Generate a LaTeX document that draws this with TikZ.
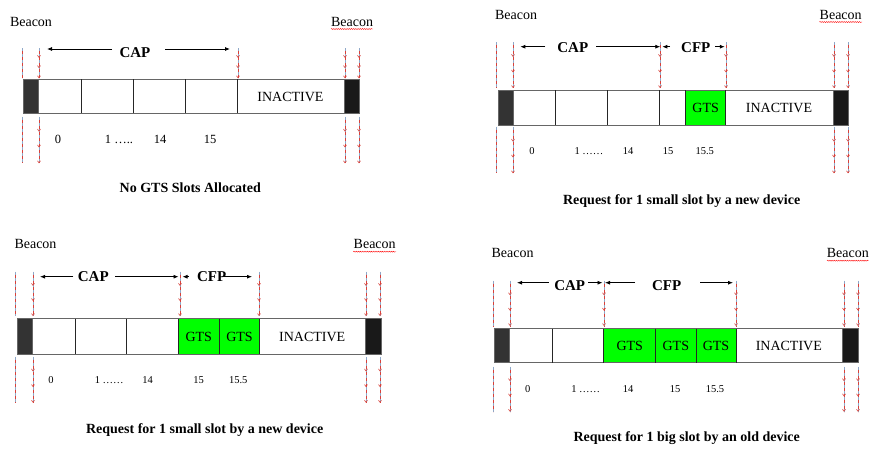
\documentclass[tikz,border=0pt]{standalone}
\usepackage{fontspec}
\setmainfont{Liberation Serif}
\usetikzlibrary{arrows.meta,decorations.markings,decorations.pathmorphing}
\definecolor{gtsgreen}{HTML}{00FF00}
\definecolor{dashblue}{HTML}{8FA8C8}
\definecolor{dashred}{HTML}{D9413A}
\tikzset{
 lbl/.style={inner sep=0pt,anchor=base,font=\fontsize{14}{16}\selectfont},
 bold/.style={inner sep=0pt,anchor=base,font=\fontsize{14}{16}\selectfont\bfseries},
 capt/.style={inner sep=0pt,anchor=base,font=\fontsize{15}{17}\selectfont\bfseries},
 num/.style={inner sep=0pt,anchor=base,font=\fontsize{10.5}{12}\selectfont},
 bignum/.style={inner sep=0pt,anchor=base,font=\fontsize{12.5}{14}\selectfont},
 whitebar/.style={fill=white},
 gts/.style={draw=black,line width=0.8pt,fill=gtsgreen},
 divider/.style={draw=black!85,line width=0.8pt},
 beaconL/.style={draw=black!60,line width=0.8pt,fill=black!80},
 beaconR/.style={draw=black!60,line width=0.8pt,fill=black!90},
 frame/.style={draw=black!60,line width=1pt},
 span/.style={line width=0.8pt,-{Latex[length=5pt,width=4pt]}},
 blu/.style={draw=dashblue,line width=0.8pt,dash pattern=on 3pt off 3pt},
 rdd/.style={draw=dashred,line width=0.6pt,dash pattern=on 3pt off 3pt,dash phase=3pt},
 tipped/.style={postaction={decorate},decoration={markings,
   mark=between positions 0.32 and 1 step 0.34 with {\arrow[dashred]{Straight Barb[length=2pt,width=3pt]}}}},
 squig/.style={draw=red,line width=0.4pt,decorate,decoration={snake,amplitude=0.5pt,segment length=2.2pt}},
}
\newcommand\vdl[4]{%
  \draw[blu] (#1,#2) -- (#1,#3);
  \draw[rdd,#4] (#1,#2) -- (#1,#3);}
\begin{document}
\begin{tikzpicture}[x=1pt,y=-1pt]
\useasboundingbox (0,0) rectangle (874,455);
\fill[white] (0,0) rectangle (874,455);

%% ---------------- Panel 1 ----------------
\fill[whitebar] (23,79) rectangle (359,113);
\draw[frame] (23,79) rectangle (359,113);
\foreach \a in {81.7,133,185,237.5} \draw[divider] (\a,79) -- (\a,113);
\draw[beaconL] (23,79) rectangle (38,113);
\draw[beaconR] (344,79) rectangle (359,113);
\node[lbl] (p1bl) at (31,26) {Beacon};
\node[lbl] (p1br) at (352,26) {Beacon};
\draw[squig] (331,29) -- (373,29);
\node[capt] (p1cap) at (135,57.5) {CAP};
\coordinate (p1a1) at (112,49); \coordinate (p1a2) at (47,49);
\coordinate (p1a3) at (165,49); \coordinate (p1a4) at (230,49);
\draw[span] (p1a1) -- (p1a2);
\draw[span] (p1a3) -- (p1a4);
\node[lbl] (p1in) at (290.5,101) {INACTIVE};
\node[bignum] (p1n0) at (58,143.3) {0};
\node[bignum] (p1n1) at (119,143.3) {1 …..};
\node[bignum] (p1n14) at (160,143.3) {14};
\node[bignum] (p1n15) at (210,143.3) {15};
\node[bold] (p1c) at (190.3,192.7) {No GTS Slots Allocated};
\vdl{22}{48.3}{78.3}{} \vdl{22}{116.7}{163.3}{}
\vdl{39}{48.3}{78.3}{tipped} \vdl{39}{116.7}{163.3}{tipped}
\vdl{238}{48.3}{78.3}{tipped}
\vdl{345}{48.3}{78.3}{tipped} \vdl{345}{116.7}{163.3}{tipped}
\vdl{359}{48.3}{78.3}{tipped} \vdl{359}{116.7}{163.3}{tipped}

%% ---------------- Panel 2 ----------------
\fill[whitebar] (498,90) rectangle (848,125);
\draw[gts] (685,90) rectangle (725,125);
\draw[frame] (498,90) rectangle (848,125);
\foreach \a in {555,607,659,685,725} \draw[divider] (\a,90) -- (\a,125);
\draw[beaconL] (498,90) rectangle (513,125);
\draw[beaconR] (833,90) rectangle (848,125);
\node[lbl] (p2bl) at (516,19) {Beacon};
\node[lbl] (p2br) at (840.7,19) {Beacon};
\draw[squig] (819.3,22) -- (862,22);
\node[capt] (p2cap) at (572.8,52.7) {CAP};
\node[capt] (p2cfp) at (695.8,52.7) {CFP};
\coordinate (p2a1) at (545.3,46.7); \coordinate (p2a2) at (520.3,46.7);
\coordinate (p2a3) at (596.3,46.7); \coordinate (p2a4) at (660.3,46.7);
\coordinate (p2a5) at (670,46.7); \coordinate (p2a6) at (662.3,46.7);
\coordinate (p2a7) at (715,46.7); \coordinate (p2a8) at (724.8,46.7);
\draw[span] (p2a1) -- (p2a2);
\draw[span] (p2a3) -- (p2a4);
\draw[span] (p2a5) -- (p2a6);
\draw[span] (p2a7) -- (p2a8);
\node[lbl] (p2g1) at (705.7,112.7) {GTS};
\node[lbl] (p2in) at (779,112.7) {INACTIVE};
\node[num] (p2n0) at (532,154) {0};
\node[num] (p2n1) at (589,154) {1 ……};
\node[num] (p2n14) at (628,154) {14};
\node[num] (p2n15) at (668,154) {15};
\node[num] (p2n155) at (704.7,154) {15.5};
\node[bold] (p2c) at (681.7,204) {Request for 1 small slot by a new device};
\vdl{496}{42.3}{88}{} \vdl{496}{126.7}{173.3}{}
\vdl{513}{42.3}{88}{tipped} \vdl{513}{126.7}{173.3}{tipped}
\vdl{660}{42.3}{88}{tipped}
\vdl{726}{42.3}{88}{tipped}
\vdl{834}{42.3}{88}{tipped} \vdl{834}{126.7}{173.3}{tipped}
\vdl{848}{42.3}{88}{tipped} \vdl{848}{126.7}{173.3}{tipped}

%% ---------------- Panel 3 ----------------
\fill[whitebar] (17,318.7) rectangle (381,354);
\draw[gts] (178,318.7) rectangle (219,354);
\draw[gts] (219,318.7) rectangle (259,354);
\draw[frame] (17,318.7) rectangle (381,354);
\foreach \a in {75,126,178,219,259} \draw[divider] (\a,318.7) -- (\a,354);
\draw[beaconL] (17,318.7) rectangle (32,354);
\draw[beaconR] (365,318.7) rectangle (381,354);
\node[lbl] (p3bl) at (35.5,248.3) {Beacon};
\node[lbl] (p3br) at (374.7,248.3) {Beacon};
\draw[squig] (353.3,251.7) -- (396,251.7);
\node[capt] (p3cap) at (93.3,281) {CAP};
\node[capt] (p3cfp) at (211.7,281) {CFP};
\coordinate (p3a1) at (73.3,276.7); \coordinate (p3a2) at (40,276.7);
\coordinate (p3a3) at (115,276.7); \coordinate (p3a4) at (178.5,276.7);
\coordinate (p3a5) at (189,276.7); \coordinate (p3a6) at (182.5,276.7);
\coordinate (p3a7) at (223,276.7); \coordinate (p3a8) at (252,276.7);
\draw[span] (p3a1) -- (p3a2);
\draw[span] (p3a3) -- (p3a4);
\draw[span] (p3a5) -- (p3a6);
\draw[span] (p3a7) -- (p3a8);
\node[lbl] (p3g1) at (198.8,341.7) {GTS};
\node[lbl] (p3g2) at (239.5,341.7) {GTS};
\node[lbl] (p3in) at (312.2,341.7) {INACTIVE};
\node[num] (p3n0) at (51,383.3) {0};
\node[num] (p3n1) at (109.3,383.3) {1 ……};
\node[num] (p3n14) at (147.7,383.3) {14};
\node[num] (p3n15) at (198.7,383.3) {15};
\node[num] (p3n155) at (238.3,383.3) {15.5};
\node[bold] (p3c) at (204.7,433.3) {Request for 1 small slot by a new device};
\vdl{15}{271.7}{316}{} \vdl{15}{356.7}{402.7}{}
\vdl{33}{271.7}{316}{tipped} \vdl{33}{356.7}{402.7}{tipped}
\vdl{180}{271.7}{316}{tipped}
\vdl{259}{271.7}{316}{tipped}
\vdl{366}{271.7}{316}{tipped} \vdl{366}{356.7}{402.7}{tipped}
\vdl{380}{271.7}{316}{tipped} \vdl{380}{356.7}{402.7}{tipped}

%% ---------------- Panel 4 ----------------
\fill[whitebar] (494,328.7) rectangle (858.7,362.7);
\draw[gts] (603,328.7) rectangle (655,362.7);
\draw[gts] (655,328.7) rectangle (696,362.7);
\draw[gts] (696,328.7) rectangle (736,362.7);
\draw[frame] (494,328.7) rectangle (858.7,362.7);
\foreach \a in {552,603,655,696,736} \draw[divider] (\a,328.7) -- (\a,362.7);
\draw[beaconL] (494,328.7) rectangle (509,362.7);
\draw[beaconR] (842,328.7) rectangle (858.7,362.7);
\node[lbl] (p4bl) at (512.5,257.3) {Beacon};
\node[lbl] (p4br) at (847.8,257.3) {Beacon};
\draw[squig] (827,260.7) -- (868.7,260.7);
\node[capt] (p4cap) at (569.7,290.7) {CAP};
\node[capt] (p4cfp) at (666.7,290.7) {CFP};
\coordinate (p4a1) at (548.7,282.7); \coordinate (p4a2) at (517,282.7);
\coordinate (p4a3) at (588,282.7); \coordinate (p4a4) at (602.5,282.7);
\coordinate (p4a5) at (635,282.7); \coordinate (p4a6) at (605,282.7);
\coordinate (p4a7) at (700.3,282.7); \coordinate (p4a8) at (733,282.7);
\draw[span] (p4a1) -- (p4a2);
\draw[span] (p4a3) -- (p4a4);
\draw[span] (p4a5) -- (p4a6);
\draw[span] (p4a7) -- (p4a8);
\node[lbl] (p4g1) at (629.8,350.7) {GTS};
\node[lbl] (p4g2) at (675.8,350.7) {GTS};
\node[lbl] (p4g3) at (716,350.7) {GTS};
\node[lbl] (p4in) at (788.8,350.7) {INACTIVE};
\node[num] (p4n0) at (527.7,392.7) {0};
\node[num] (p4n1) at (585.7,392.7) {1 ……};
\node[num] (p4n14) at (628,392.7) {14};
\node[num] (p4n15) at (675,392.7) {15};
\node[num] (p4n155) at (715,392.7) {15.5};
\node[bold] (p4c) at (686.7,441.7) {Request for 1 big slot by an old device};
\vdl{493}{280.7}{326}{} \vdl{493}{366.7}{411.7}{}
\vdl{510}{280.7}{326}{tipped} \vdl{510}{366.7}{411.7}{tipped}
\vdl{604}{280.7}{326}{tipped}
\vdl{736}{280.7}{326}{tipped}
\vdl{844}{280.7}{326}{tipped} \vdl{844}{366.7}{411.7}{tipped}
\vdl{858}{280.7}{326}{tipped} \vdl{858}{366.7}{411.7}{tipped}
\end{tikzpicture}
\end{document}
